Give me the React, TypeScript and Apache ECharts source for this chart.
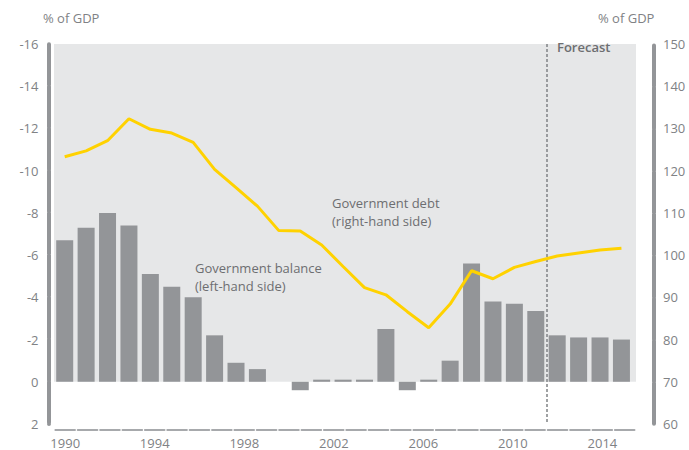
import React, { useEffect, useRef } from "react";
import * as echarts from "echarts";

// Year labels on the horizontal axis
const years = [
  "1990", "1991", "1992", "1993", "1994", "1995", "1996", "1997", "1998", "1999",
  "2000", "2001", "2002", "2003", "2004", "2005", "2006", "2007", "2008", "2009",
  "2010", "2011", "2012", "2013", "2014", "2015",
];

// Observation periods (27 evenly spaced points across the span)
const periods = [
  "P1", "P2", "P3", "P4", "P5", "P6", "P7", "P8", "P9", "P10",
  "P11", "P12", "P13", "P14", "P15", "P16", "P17", "P18", "P19", "P20",
  "P21", "P22", "P23", "P24", "P25", "P26", "P27",
];

// Government balance, % of GDP (left-hand side, deficits negative)
const balance = [
  -6.7, -7.3, -8.0, -7.4, -5.1, -4.5, -4.0, -2.2, -0.9, -0.6,
  0, 0.4, -0.1, -0.1, -0.1, -2.5, 0.4, -0.1, -1.0, -5.6,
  -3.8, -3.7, -3.35, -2.2, -2.1, -2.1, -2.0,
];

// Government debt, % of GDP (right-hand side)
const debt = [
  123.3, 124.7, 127.1, 132.3, 129.8, 128.9, 126.7, 120.3, 116.0, 111.6,
  105.8, 105.7, 102.4, 97.3, 92.3, 90.6, 86.6, 82.8, 88.4, 96.3,
  94.4, 97.1, 98.5, 99.8, 100.5, 101.2, 101.6,
];

// Forecast starts between the 23rd and 24th period
const forecastStart = 22.5;

const leftTicks = { min: -16, max: 2, interval: 2 };
const rightTicks = { min: 60, max: 150, interval: 10 };

const FONT = "'Open Sans', Lato, sans-serif";
const AXIS_TEXT = "#808285";
const NOTE_TEXT = "#6d6e71";
const BAR = "#939598";
const YELLOW = "#FFD200";

export default function App() {
  const ref = useRef<HTMLDivElement>(null);

  useEffect(() => {
    document.body.style.margin = "0";
    if (!ref.current) return;
    const chart = echarts.init(ref.current, undefined, { renderer: "svg" });

    const option: any = {
      animation: false,
      backgroundColor: "#ffffff",
      textStyle: { fontFamily: FONT },
      grid: { left: 54, right: 53, top: 44, bottom: 26, containLabel: false },
      xAxis: [
        {
          // data positions (index of each period); a little room is left after the last bar
          type: "value",
          min: -0.5,
          max: periods.length - 0.32,
          show: false,
          axisLine: { onZero: false },
        },
        {
          type: "category",
          data: years,
          boundaryGap: true,
          position: "bottom",
          offset: 6,
          axisLine: {
            show: true,
            onZero: false,
            lineStyle: { color: "#a7a9ac", width: 2, type: [19.6, 2.78], dashOffset: 20.99 },
          },
          axisTick: { show: false },
          axisLabel: {
            interval: 3,
            color: AXIS_TEXT,
            fontSize: 13,
            lineHeight: 13,
            fontFamily: FONT,
            margin: 6,
          },
          splitLine: { show: false },
        },
      ],
      yAxis: [
        {
          type: "value",
          inverse: true,
          min: leftTicks.min,
          max: leftTicks.max,
          interval: leftTicks.interval,
          position: "left",
          offset: 5.5,
          axisLine: {
            show: true,
            onZero: false,
            lineStyle: { color: BAR, width: 4, type: [40.8, 1.4], dashOffset: 41.5 },
          },
          axisTick: { show: false },
          axisLabel: { color: AXIS_TEXT, fontSize: 13, fontFamily: FONT, margin: 10 },
          splitLine: { show: false },
        },
        {
          type: "value",
          min: rightTicks.min,
          max: rightTicks.max,
          interval: rightTicks.interval,
          position: "right",
          offset: 18,
          axisLine: {
            show: true,
            onZero: false,
            lineStyle: { color: BAR, width: 4, type: [40.8, 1.4], dashOffset: 41.5 },
          },
          axisTick: { show: false },
          axisLabel: { color: AXIS_TEXT, fontSize: 13, fontFamily: FONT, margin: 9 },
          splitLine: { show: false },
        },
      ],
      series: [
        {
          name: "Government balance",
          type: "bar",
          xAxisIndex: 0,
          yAxisIndex: 0,
          barWidth: 17,
          z: 2,
          itemStyle: { color: BAR },
          data: periods.map((_, i) => [i, balance[i]]),
          markArea: {
            silent: true,
            z: 1,
            itemStyle: { color: "#e6e7e8" },
            data: [[{ yAxis: 0 }, { yAxis: leftTicks.min }]],
          },
          markLine: {
            silent: true,
            z: 2,
            symbol: ["none", "none"],
            label: { show: false },
            lineStyle: { color: "#808285", width: 1.5, type: [3, 2] },
            data: [{ xAxis: forecastStart }],
          },
        },
        {
          name: "Government debt",
          type: "line",
          xAxisIndex: 0,
          yAxisIndex: 1,
          z: 3,
          symbol: "none",
          lineStyle: { color: YELLOW, width: 3 },
          data: periods.map((_, i) => [i, debt[i]]),
        },
      ],
      graphic: [
        {
          type: "text",
          left: 43,
          top: 11,
          z: 100,
          style: { text: "% of GDP", fill: AXIS_TEXT, font: `13px ${FONT}` },
        },
        {
          type: "text",
          left: 598,
          top: 11,
          z: 100,
          style: { text: "% of GDP", fill: AXIS_TEXT, font: `13px ${FONT}` },
        },
        {
          type: "text",
          left: 557,
          top: 40,
          z: 100,
          style: { text: "Forecast", fill: NOTE_TEXT, font: `600 13px ${FONT}` },
        },
        {
          type: "text",
          left: 332,
          top: 194,
          z: 100,
          style: {
            text: "Government debt\n(right-hand side)",
            fill: NOTE_TEXT,
            font: `13px ${FONT}`,
            lineHeight: 18,
          },
        },
        {
          type: "text",
          left: 195,
          top: 259,
          z: 100,
          style: {
            text: "Government balance\n(left-hand side)",
            fill: NOTE_TEXT,
            font: `13px ${FONT}`,
            lineHeight: 18,
          },
        },
      ],
    };

    chart.setOption(option);
    return () => chart.dispose();
  }, []);

  return <div ref={ref} style={{ width: 689, height: 450 }} />;
}
